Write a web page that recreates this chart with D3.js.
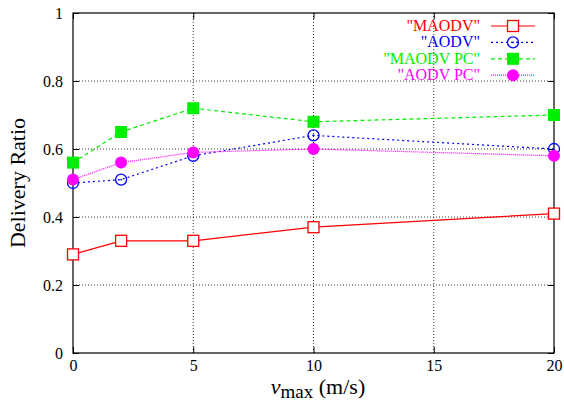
<!DOCTYPE html>
<html>
<head>
<meta charset="utf-8">
<script src="https://cdn.jsdelivr.net/npm/d3@7"></script>
<style>
  body { margin: 0; background: #fff; }
  svg text, svg tspan { font-family: "Liberation Serif", "DejaVu Serif", serif !important; }
</style>
</head>
<body>
<script>
var speeds = [0, 2, 5, 10, 20];
var maodv = [0.29, 0.33, 0.33, 0.37, 0.41];
var aodv = [0.50, 0.51, 0.58, 0.64, 0.60];
var maodvPc = [0.56, 0.65, 0.72, 0.68, 0.70];
var aodvPc = [0.51, 0.56, 0.59, 0.60, 0.58];
var xTicks = [0, 5, 10, 15, 20];
var yTicks = [0, 0.2, 0.4, 0.6, 0.8, 1];

var series = [
  {name: '"MAODV"', values: maodv, color: "#ff0000", dash: null, marker: "square"},
  {name: '"AODV"', values: aodv, color: "#0000ff", dash: "2,3", marker: "circle"},
  {name: '"MAODV PC"', values: maodvPc, color: "#00ee00", dash: "4,3", marker: "fsquare"},
  {name: '"AODV PC"', values: aodvPc, color: "#ff00ff", dash: "1,1", marker: "fcircle"}
];

var margin = {top: 13, right: 10, bottom: 52, left: 73},
    width = 564 - margin.left - margin.right,
    height = 405 - margin.top - margin.bottom;

var x = d3.scaleLinear().domain([0, 20]).range([0, width]);
var y = d3.scaleLinear().domain([0, 1]).range([height, 0]);

var svg = d3.select("body").append("svg")
    .attr("width", 564)
    .attr("height", 405)
  .append("g")
    .attr("transform", "translate(" + margin.left + "," + margin.top + ")");

// grid
svg.selectAll(".gy").data(yTicks.slice(1, -1)).enter().append("line")
    .attr("x1", 0).attr("x2", width)
    .attr("y1", d => y(d)).attr("y2", d => y(d))
    .attr("stroke", "#000").attr("stroke-width", 0.8).attr("stroke-dasharray", "1,2");
svg.selectAll(".gx").data(xTicks.slice(1, -1)).enter().append("line")
    .attr("y1", 0).attr("y2", height)
    .attr("x1", d => x(d)).attr("x2", d => x(d))
    .attr("stroke", "#000").attr("stroke-width", 0.8).attr("stroke-dasharray", "1,2");

// axes (ticks inward, mirrored)
function styleAxis(g) {
  g.attr("font-family", "Liberation Serif").attr("font-size", 16);
  g.select(".domain").remove();
  g.selectAll("text").attr("fill", "#000");
  g.selectAll("line").attr("stroke", "#000");
}
svg.append("g").attr("transform", "translate(0," + height + ")")
    .call(d3.axisBottom(x).tickValues(xTicks).tickSize(-6).tickPadding(7).tickFormat(d3.format("d")))
    .call(styleAxis);
svg.append("g")
    .call(d3.axisLeft(y).tickValues(yTicks).tickSize(-6).tickPadding(10).tickFormat(d => d === 0 || d === 1 ? d : d3.format(".1f")(d)))
    .call(styleAxis);
svg.append("g")
    .call(d3.axisTop(x).tickValues(xTicks).tickSize(-6).tickFormat(""))
    .call(styleAxis);
svg.append("g").attr("transform", "translate(" + width + ",0)")
    .call(d3.axisRight(y).tickValues(yTicks).tickSize(-6).tickFormat(""))
    .call(styleAxis);

svg.append("rect").attr("width", width).attr("height", height)
    .attr("fill", "none").attr("stroke", "#000").attr("stroke-width", 1.2);

// lines
var line = d3.line().x((d, i) => x(speeds[i])).y(d => y(d));

function drawMarker(g, type, color) {
  if (type === "square") {
    g.append("rect").attr("x", -5.5).attr("y", -5.5).attr("width", 11).attr("height", 11)
      .attr("fill", "#fff").attr("stroke", color).attr("stroke-width", 1.3);
  } else if (type === "fsquare") {
    g.append("rect").attr("x", -6).attr("y", -6).attr("width", 12).attr("height", 12)
      .attr("fill", color);
  } else if (type === "circle") {
    g.append("circle").attr("r", 5.5).attr("fill", "none").attr("stroke", color).attr("stroke-width", 1.3);
    g.append("circle").attr("r", 0.9).attr("fill", color);
  } else {
    g.append("circle").attr("r", 6).attr("fill", color);
  }
}

series.forEach(function(s) {
  svg.append("path").datum(s.values)
    .attr("d", line)
    .attr("fill", "none")
    .attr("stroke", s.color)
    .attr("stroke-width", 1.2)
    .attr("stroke-dasharray", s.dash);
  s.values.forEach(function(v, i) {
    var g = svg.append("g").attr("transform", "translate(" + x(speeds[i]) + "," + y(v) + ")");
    drawMarker(g, s.marker, s.color);
  });
});

// legend
var legend = svg.append("g").attr("transform", "translate(" + (480 - margin.left) + "," + (26 - margin.top) + ")");
series.forEach(function(s, i) {
  var row = legend.append("g").attr("transform", "translate(0," + (i * 16.4) + ")");
  row.append("text").attr("x", 0).attr("y", 5).attr("text-anchor", "end")
    .attr("font-size", 16).attr("fill", s.color).text(s.name);
  row.append("line").attr("x1", 11).attr("x2", 55).attr("y1", 0).attr("y2", 0)
    .attr("stroke", s.color).attr("stroke-width", 1.2).attr("stroke-dasharray", s.dash);
  var m = row.append("g").attr("transform", "translate(33,0)");
  drawMarker(m, s.marker, s.color);
});

// axis titles
var xt = svg.append("text")
    .attr("x", 318 - margin.left)
    .attr("y", 394 - margin.top)
    .attr("text-anchor", "middle")
    .attr("font-size", 22);
xt.append("tspan").attr("font-style", "italic").text("v");
xt.append("tspan").attr("font-size", 19).attr("dy", 4).text("max");
xt.append("tspan").attr("dy", -4).text(" (m/s)");

svg.append("text")
    .attr("transform", "translate(" + (-48) + "," + (height / 2) + ") rotate(-90)")
    .attr("text-anchor", "middle")
    .attr("font-size", 22)
    .text("Delivery Ratio");
</script>
</body>
</html>
